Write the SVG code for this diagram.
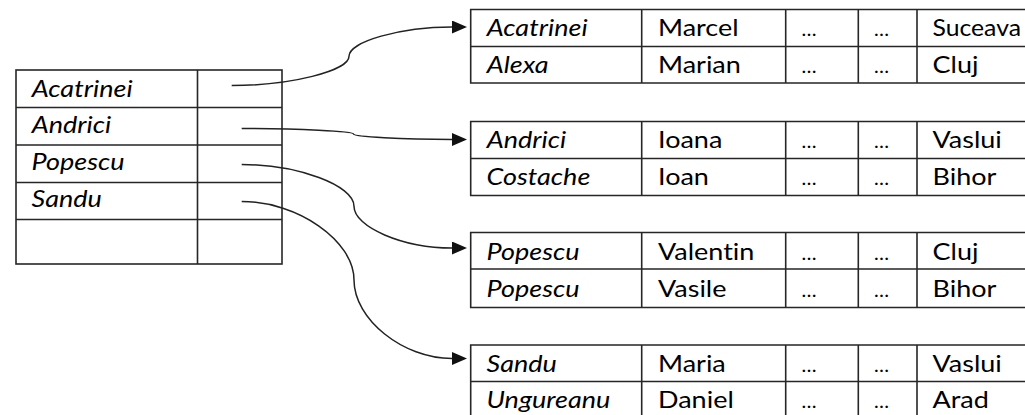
<svg xmlns="http://www.w3.org/2000/svg" width="1025" height="415" viewBox="0 0 1025 415">
  <style>
    .grid { fill: none; stroke: #262626; stroke-width: 1.6; }
    .t { font-family: Lato, "Open Sans", "Liberation Sans", sans-serif; font-size: 22.5px; fill: #000;
         font-variant-ligatures: none;
         transform-box: fill-box; transform-origin: 0 0; transform: scaleX(1.2); }
    .t.narrow { transform: scaleX(1.1); }
    .i { font-style: italic; }
    .d { font-family: Lato, "Open Sans", "Liberation Sans", sans-serif; font-size: 20px; fill: #000; }
    .link { fill: none; stroke: #222; stroke-width: 1.5; marker-end: url(#arrow); }
  </style>
  <defs>
    <marker id="arrow" markerUnits="userSpaceOnUse" markerWidth="16" markerHeight="14" refX="0" refY="6.5" orient="auto">
      <path d="M0,0 L15,6.5 L0,13 Z" fill="#111"/>
    </marker>
  </defs>
  <rect width="1025" height="415" fill="#fff"/>

  <!-- index table -->
  <g id="index">
    <rect class="grid" x="16" y="70" width="266" height="194"/>
    <path class="grid" d="M197.5,70 V264 M16,107.5 H282 M16,145 H282 M16,182.5 H282 M16,219.5 H282"/>
    <text class="t i" x="31.5" y="96.7">Acatrinei</text>
    <text class="t i" x="31.5" y="132.7">Andrici</text>
    <text class="t i" x="31.5" y="170">Popescu</text>
    <text class="t i" x="31.5" y="206.7">Sandu</text>
  </g>

  <!-- block A -->
  <g id="block-acatrinei">
    <path class="grid" d="M1030,9.5 H470.7 V83 H1030 M470.7,46.5 H1030 M641.7,9.5 V83 M785.7,9.5 V83 M858.3,9.5 V83 M917,9.5 V83"/>
    <text class="t i" x="486.5" y="36">Acatrinei</text>
    <text class="t" x="658" y="36">Marcel</text>
    <text class="d" x="801.5" y="36">…</text>
    <text class="d" x="874" y="36">…</text>
    <text class="t narrow" x="932.5" y="36">Suceava</text>
    <text class="t i" x="486.5" y="72.7">Alexa</text>
    <text class="t" x="658" y="72.7">Marian</text>
    <text class="d" x="801.5" y="72.7">…</text>
    <text class="d" x="874" y="72.7">…</text>
    <text class="t" x="932.5" y="72.7">Cluj</text>
  </g>

  <!-- block B -->
  <g id="block-andrici">
    <path class="grid" d="M1030,121.5 H470.7 V195.5 H1030 M470.7,158.5 H1030 M641.7,121.5 V195.5 M785.7,121.5 V195.5 M858.3,121.5 V195.5 M917,121.5 V195.5"/>
    <text class="t i" x="486.5" y="148.3">Andrici</text>
    <text class="t" x="658" y="148.3">Ioana</text>
    <text class="d" x="801.5" y="148.3">…</text>
    <text class="d" x="874" y="148.3">…</text>
    <text class="t" x="932.5" y="148.3">Vaslui</text>
    <text class="t i" x="486.5" y="185">Costache</text>
    <text class="t" x="658" y="185">Ioan</text>
    <text class="d" x="801.5" y="185">…</text>
    <text class="d" x="874" y="185">…</text>
    <text class="t" x="932.5" y="185">Bihor</text>
  </g>

  <!-- block P -->
  <g id="block-popescu">
    <path class="grid" d="M1030,232.5 H470.7 V307.5 H1030 M470.7,269 H1030 M641.7,232.5 V307.5 M785.7,232.5 V307.5 M858.3,232.5 V307.5 M917,232.5 V307.5"/>
    <text class="t i" x="486.5" y="260">Popescu</text>
    <text class="t" x="658" y="260">Valentin</text>
    <text class="d" x="801.5" y="260">…</text>
    <text class="d" x="874" y="260">…</text>
    <text class="t" x="932.5" y="260">Cluj</text>
    <text class="t i" x="486.5" y="296.7">Popescu</text>
    <text class="t" x="658" y="296.7">Vasile</text>
    <text class="d" x="801.5" y="296.7">…</text>
    <text class="d" x="874" y="296.7">…</text>
    <text class="t" x="932.5" y="296.7">Bihor</text>
  </g>

  <!-- block S -->
  <g id="block-sandu">
    <path class="grid" d="M1030,345 H470.7 V420 H1030 M470.7,381.5 H1030 M641.7,345 V420 M785.7,345 V420 M858.3,345 V420 M917,345 V420"/>
    <text class="t i" x="486.5" y="371.7">Sandu</text>
    <text class="t" x="658" y="371.7">Maria</text>
    <text class="d" x="801.5" y="371.7">…</text>
    <text class="d" x="874" y="371.7">…</text>
    <text class="t" x="932.5" y="371.7">Vaslui</text>
    <text class="t i" x="486.5" y="408.3">Ungureanu</text>
    <text class="t" x="658" y="408.3">Daniel</text>
    <text class="d" x="801.5" y="408.3">…</text>
    <text class="d" x="874" y="408.3">…</text>
    <text class="t" x="932.5" y="408.3">Arad</text>
  </g>

  <!-- pointers from index entries to their blocks -->
  <g id="connectors">
    <path class="link" d="M231.7,85.5 C290.3,85.5 349,70.9 349,56.25 C349,41.6 400.5,27 452,27"/>
    <path class="link" d="M241.7,128.5 C297.6,128.5 353.5,131.25 353.5,134 C353.5,136.75 402.75,139.5 452,139.5"/>
    <path class="link" d="M241.7,164.5 C297.85,164.5 354,185.4 354,206.25 C354,227.1 403,248 452,248"/>
    <path class="link" d="M241.7,201.5 C297.85,201.5 354,240.75 354,280 C354,319.25 403,358.5 452,358.5"/>
  </g>
</svg>
